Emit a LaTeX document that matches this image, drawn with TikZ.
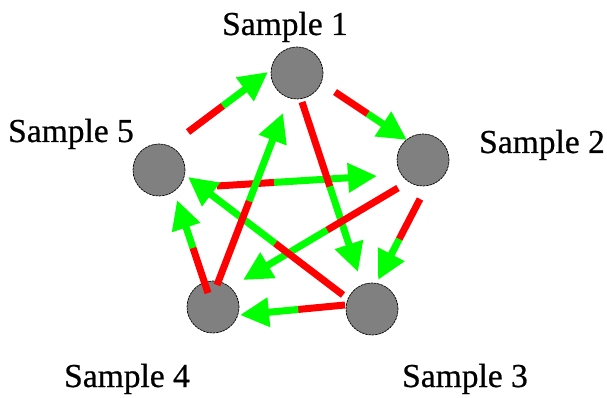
\documentclass[tikz,border=0pt]{standalone}
\usepackage{fontspec}
\setmainfont{Liberation Serif}
\newfontfamily\lblfont[FakeBold=0.6]{Liberation Serif}
\usetikzlibrary{arrows.meta,calc}
\definecolor{arrred}{RGB}{255,0,0}
\definecolor{arrgreen}{RGB}{0,255,0}
\definecolor{ballgray}{RGB}{128,128,128}
\tikzset{
  ball/.style={circle,fill=ballgray,draw=black,line width=0.7pt,dash pattern=on 2.5pt off 0.8pt,minimum size=52pt,inner sep=0pt},
  lbl/.style={anchor=base,inner sep=0pt,font=\lblfont\fontsize{33.5}{33.5}\selectfont},
  redpart/.style={draw=arrred,line width=7pt},
  greenpart/.style={draw=arrgreen,line width=7pt,-{Triangle[length=29pt,width=28pt,fill=arrgreen]}},
}
\newcommand{\biarrow}[2]{%
  \coordinate (#1m) at ($(#1s)!#2!(#1e)$);
  \draw[redpart] (#1s) -- (#1m);
  \draw[greenpart] ($(#1m)!-0.5pt!(#1e)$) -- (#1e);
}
\begin{document}
\begin{tikzpicture}[x=1pt,y=-1pt]
\useasboundingbox (0,0) rectangle (607,398);
% balls
\node[ball] (s1) at (297,73) {};
\node[ball] (s2) at (423,160) {};
\node[ball] (s3) at (372,309) {};
\node[ball] (s4) at (213,307) {};
\node[ball] (s5) at (159,170) {};
% labels
\node[lbl] (l1) at (285,35) {Sample 1};
\node[lbl] (l2) at (542,153) {Sample 2};
\node[lbl] (l3) at (465,387) {Sample 3};
\node[lbl] (l4) at (127,387) {Sample 4};
\node[lbl] (l5) at (71,142) {Sample 5};
% arrow end points
\coordinate (as) at (188,132); \coordinate (ae) at (268,72);   % 5 -> 1
\coordinate (bs) at (335,92);  \coordinate (be) at (407,140);  % 1 -> 2
\coordinate (cs) at (420,199); \coordinate (ce) at (378,280);  % 2 -> 3
\coordinate (ds) at (345,305); \coordinate (de) at (240,315);  % 3 -> 4
\coordinate (es) at (208,293); \coordinate (ee) at (177,200);  % 4 -> 5
\coordinate (fs) at (302,102); \coordinate (fe) at (358,272);  % 1 -> 3
\coordinate (gs) at (398,188); \coordinate (ge) at (243,280);  % 2 -> 4
\coordinate (hs) at (343,295); \coordinate (he) at (188,177);  % 3 -> 5
\coordinate (is) at (217,285); \coordinate (ie) at (283,113);  % 4 -> 1
\coordinate (js) at (217,186); \coordinate (je) at (377,176);  % 5 -> 2
\biarrow{a}{0.44}
\biarrow{b}{0.46}
\biarrow{c}{0.5}
\biarrow{d}{0.45}
\biarrow{e}{0.49}
\biarrow{j}{0.36}
\biarrow{f}{0.5}
\biarrow{g}{0.46}
\biarrow{h}{0.44}
\biarrow{i}{0.49}
\end{tikzpicture}
\end{document}
